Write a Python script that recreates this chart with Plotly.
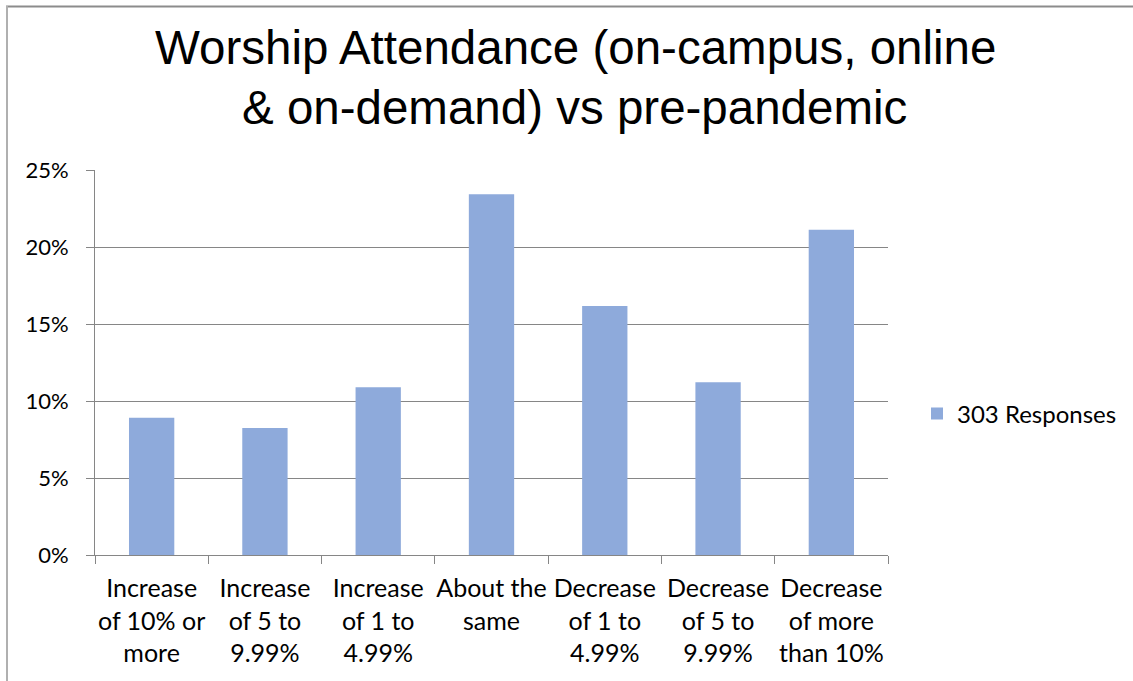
import plotly.graph_objects as go

categories = [
    "Increase<br>of 10% or<br>more",
    "Increase<br>of 5 to<br>9.99%",
    "Increase<br>of 1 to<br>4.99%",
    "About the<br>same<br> ",
    "Decrease<br>of 1 to<br>4.99%",
    "Decrease<br>of 5 to<br>9.99%",
    "Decrease<br>of more<br>than 10%",
]
values = [0.0891, 0.0825, 0.1089, 0.2343, 0.1617, 0.1122, 0.2112]
series_name = "303 Responses"
title_lines = ["Worship Attendance (on-campus, online", "& on-demand) vs pre-pandemic"]
y_ticks = [0, 0.05, 0.10, 0.15, 0.20, 0.25]
y_ticklabels = ["0%", "5%", "10%", "15%", "20%", "25%"]

W, H = 1133, 681
L, R, T, B = 95, 888, 170, 555

fig = go.Figure()
fig.add_trace(go.Bar(x=categories, y=values, name=series_name,
                     marker=dict(color="#8eaadb", line=dict(width=0)),
                     showlegend=True))

def px_x(p):
    return (p - L) / (R - L)

def px_y(p):
    return (B - p) / (B - T)

title_font = dict(family="Liberation Sans, Arial", size=47.5, color="black")
annotations = [
    dict(text=title_lines[0], xref="paper", yref="paper", x=px_x(575), y=px_y(48),
         xanchor="center", yanchor="middle", showarrow=False, font=title_font),
    dict(text=title_lines[1], xref="paper", yref="paper", x=px_x(574), y=px_y(108),
         xanchor="center", yanchor="middle", showarrow=False, font=title_font),
]

fig.update_layout(
    width=W, height=H, autosize=False,
    margin=dict(l=L, r=W - R, t=T, b=H - B, pad=0, autoexpand=False),
    paper_bgcolor="white", plot_bgcolor="white",
    bargap=0.6,
    annotations=annotations,
    font=dict(family="Lato, Open Sans, sans-serif", size=24, color="black"),
    legend=dict(xref="container", yref="container", x=917 / W, y=1 - 414 / H,
                xanchor="left", yanchor="middle",
                font=dict(size=24, color="black"), itemwidth=30,
                bgcolor="rgba(0,0,0,0)"),
    shapes=[
        dict(type="line", xref="paper", yref="paper",
             x0=px_x(6), x1=px_x(W + 5), y0=px_y(6.5), y1=px_y(6.5),
             line=dict(color="#8c8c8c", width=2)),
        dict(type="line", xref="paper", yref="paper",
             x0=px_x(7), x1=px_x(7), y0=px_y(6), y1=px_y(H + 5),
             line=dict(color="#b0b0b0", width=2)),
    ],
)
fig.update_yaxes(range=[0, 0.25], tickvals=y_ticks, ticktext=y_ticklabels,
                 showgrid=True, gridcolor="#868686", gridwidth=1,
                 showline=True, linecolor="#868686", linewidth=1,
                 ticks="outside", ticklen=8, tickcolor="#868686",
                 ticklabelstandoff=13, zeroline=False, automargin=False,
                 tickfont=dict(size=22))
fig.update_xaxes(showline=True, linecolor="#868686", linewidth=1,
                 ticks="outside", ticklen=8, tickcolor="#868686",
                 tickson="boundaries", showgrid=False, tickangle=0,
                 automargin=False,
                 tickfont=dict(size=25), ticklabelstandoff=11)

fig.write_html("out.html", config={"displayModeBar": False},
               post_script="document.body.style.margin='0px';")
